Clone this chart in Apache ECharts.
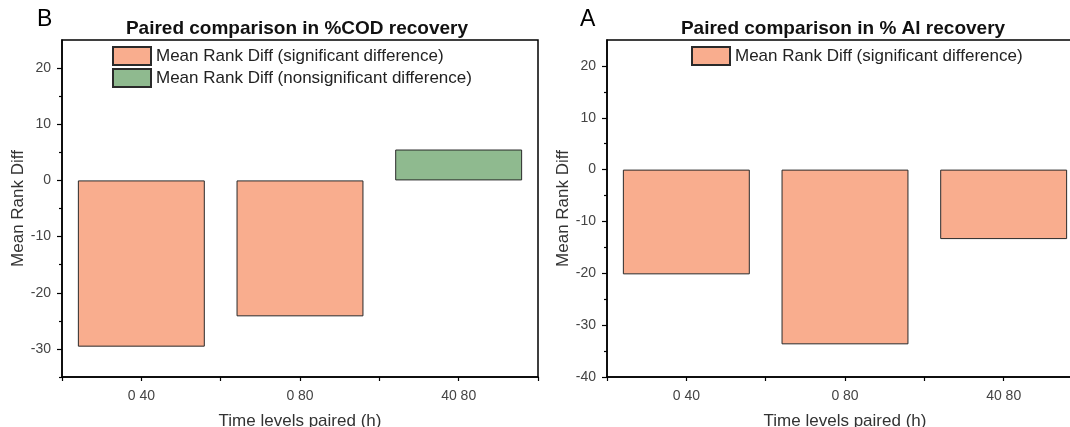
<!DOCTYPE html>
<html>
<head>
<meta charset="utf-8">
<title>Paired comparison</title>
<script src="https://cdn.jsdelivr.net/npm/echarts@6/dist/echarts.min.js"></script>
<style>
  html, body { margin: 0; padding: 0; background: #fff; }
  #chart { width: 1070px; height: 427px; }
</style>
</head>
<body>
<div id="chart"></div>
<script>
// data
const categories = ['0 40', '0 80', '40 80'];
const codSig = [-29.6, -24.2, null];
const codNonSig = [null, null, 5.5];
const alSig = [-20.2, -33.7, -13.4];

const codTicks = [-30, -20, -10, 0, 10, 20];
const codMinor = [-35, -25, -15, -5, 5, 15];
const alTicks = [-40, -30, -20, -10, 0, 10, 20];
const alMinor = [-35, -25, -15, -5, 5, 15];

const FONT = '"Liberation Sans", Arial, sans-serif';
const sigColor = '#F9AD8E';
const nonSigColor = '#8FBA8F';

const myChart = echarts.init(document.getElementById('chart'));

// one pair of y axes per panel: ticks+labels at tens, short ticks at fives
const yAxisPair = (gridIndex, min, max, ticks, minor, gap) => [
  {
    gridIndex: gridIndex,
    type: 'value',
    position: 'left',
    min: min,
    max: max,
    name: 'Mean Rank Diff',
    nameLocation: 'middle',
    nameGap: gap,
    nameTextStyle: { fontFamily: FONT, fontSize: 17, color: '#333' },
    axisLine: { show: true, onZero: false, lineStyle: { color: '#000', width: 1.5 } },
    axisTick: { show: true, length: 5, customValues: ticks, lineStyle: { color: '#000', width: 1.2 } },
    axisLabel: { customValues: ticks, margin: 11, fontFamily: FONT, fontSize: 14, color: '#444' },
    splitLine: { show: false }
  },
  {
    gridIndex: gridIndex,
    type: 'value',
    position: 'left',
    min: min,
    max: max,
    axisLine: { show: false, onZero: false },
    axisTick: { show: true, length: 3, customValues: minor, lineStyle: { color: '#000', width: 1.2 } },
    axisLabel: { show: false },
    splitLine: { show: false }
  }
];

// category axis with labels + center ticks, and a twin for the boundary ticks
const xAxisPair = (gridIndex) => [
  {
    gridIndex: gridIndex,
    type: 'category',
    data: categories,
    position: 'bottom',
    name: 'Time levels paired (h)',
    nameLocation: 'middle',
    nameGap: 36,
    nameTextStyle: { fontFamily: FONT, fontSize: 17, color: '#333' },
    axisLine: { onZero: false, lineStyle: { color: '#000', width: 1.5 } },
    axisTick: { show: true, alignWithLabel: true, length: 4, lineStyle: { color: '#000', width: 1.2 } },
    axisLabel: { margin: 12, fontFamily: FONT, fontSize: 14, color: '#444' },
    splitLine: { show: false }
  },
  {
    gridIndex: gridIndex,
    type: 'category',
    data: categories,
    position: 'bottom',
    axisLine: { show: false, onZero: false },
    axisTick: { show: true, alignWithLabel: false, length: 4, lineStyle: { color: '#000', width: 1.2 } },
    axisLabel: { show: false },
    splitLine: { show: false }
  }
];

const barBase = {
  type: 'bar',
  barWidth: '80%',
  barGap: '-100%'
};

myChart.setOption({
  animation: false,
  textStyle: { fontFamily: FONT },
  graphic: [
    { type: 'text', left: 37, top: 8, style: { text: 'B', font: '23px ' + FONT, fill: '#000' } },
    { type: 'text', left: 580, top: 8, style: { text: 'A', font: '23px ' + FONT, fill: '#000' } },
    { type: 'text', x: 297, y: 29, style: { text: 'Paired comparison in %COD recovery', font: 'bold 19px ' + FONT, fill: '#111', align: 'center', verticalAlign: 'middle' } },
    { type: 'text', x: 843, y: 29, style: { text: 'Paired comparison in % Al recovery', font: 'bold 19px ' + FONT, fill: '#111', align: 'center', verticalAlign: 'middle' } }
  ],
  legend: [
    {
      left: 112,
      top: 46,
      padding: 0,
      orient: 'vertical',
      icon: 'rect',
      itemWidth: 38,
      itemHeight: 18,
      itemGap: 2,
      textStyle: { fontFamily: FONT, fontSize: 17, color: '#222', lineHeight: 18 },
      data: ['Mean Rank Diff (significant difference)', 'Mean Rank Diff (nonsignificant difference)']
    },
    {
      left: 691,
      top: 46,
      padding: 0,
      orient: 'vertical',
      icon: 'rect',
      itemWidth: 38,
      itemHeight: 18,
      textStyle: { fontFamily: FONT, fontSize: 17, color: '#222', lineHeight: 18 },
      data: ['Mean Rank Diff (significant difference) ']
    }
  ],
  grid: [
    { left: 62, top: 40, width: 476, height: 337, outerBoundsMode: 'none', containLabel: false, show: true, borderColor: '#000', borderWidth: 1.5, backgroundColor: 'transparent' },
    { left: 607, top: 40, width: 476, height: 337, outerBoundsMode: 'none', containLabel: false, show: true, borderColor: '#000', borderWidth: 1.5, backgroundColor: 'transparent' }
  ],
  xAxis: [...xAxisPair(0), ...xAxisPair(1)],
  yAxis: [
    ...yAxisPair(0, -35, 25, codTicks, codMinor, 34),
    ...yAxisPair(1, -40, 25, alTicks, alMinor, 35)
  ],
  series: [
    Object.assign({}, barBase, {
      name: 'Mean Rank Diff (significant difference)',
      xAxisIndex: 0, yAxisIndex: 0,
      data: codSig,
      itemStyle: { color: sigColor, borderColor: '#2a2a2a', borderWidth: 1 }
    }),
    Object.assign({}, barBase, {
      name: 'Mean Rank Diff (nonsignificant difference)',
      xAxisIndex: 0, yAxisIndex: 0,
      data: codNonSig,
      itemStyle: { color: nonSigColor, borderColor: '#2a2a2a', borderWidth: 1 }
    }),
    Object.assign({}, barBase, {
      name: 'Mean Rank Diff (significant difference) ',
      xAxisIndex: 2, yAxisIndex: 2,
      data: alSig,
      itemStyle: { color: sigColor, borderColor: '#2a2a2a', borderWidth: 1 }
    })
  ]
});

window.onresize = function () {
  myChart.resize();
};
</script>
</body>
</html>
